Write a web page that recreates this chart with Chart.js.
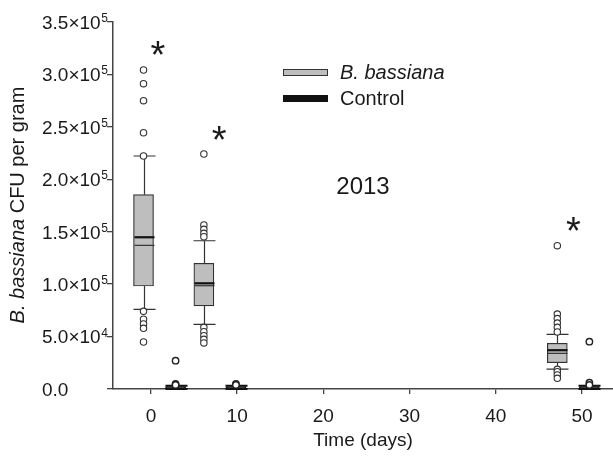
<!DOCTYPE html>
<html>
<head>
<meta charset="utf-8">
<script src="https://cdn.jsdelivr.net/npm/chart.js@4.4.1/dist/chart.umd.min.js"></script>
<style>
  html, body { margin: 0; padding: 0; background: #fff; }
  #wrap { width: 613px; height: 465px; }
</style>
</head>
<body>
<div id="wrap"><canvas id="boxChart" width="613" height="465"></canvas></div>
<script>
// sampling days; each pair of boxes sits either side of its day
const sampleDays = [1, 8, 49];

// B. bassiana boxes (CFU per gram)
const bassLow    = [76000, 61700, 19000];
const bassQ1     = [98200, 79200, 25100];
const bassMedian = [144700, 100800, 37000];
const bassQ3     = [185300, 119900, 43600];
const bassHigh   = [222200, 141400, 52100];
const bassMean   = [137000, 98500, 34000];
const bassOutliers = [
  [304200, 291200, 275000, 244400, 222200, 74100, 66500, 62000, 57900, 44800],
  [224100, 156400, 152300, 148500, 145200, 58800, 54600, 50800, 47400, 43900],
  [136700, 71500, 67200, 62900, 58800, 54400, 18800, 16500, 13400, 10200]
];

// Control boxes
const ctrlLow    = [0, 0, 0];
const ctrlQ1     = [400, 400, 400];
const ctrlMedian = [1000, 1000, 1000];
const ctrlQ3     = [2200, 2200, 2200];
const ctrlHigh   = [3200, 3200, 3200];
const ctrlOutliers = [
  [27000, 4800, 3800],
  [4800, 3800],
  [45100, 6000, 3800]
];

// significance marks
const starX = [0.8, 7.9, 49.0];
const starY = [325000, 244000, 157000];

// axis ticks
const xTickValues = [0, 10, 20, 30, 40, 50];
const yTickValues = [0, 50000, 100000, 150000, 200000, 250000, 300000, 350000];
const yTickMantissa = ['0.0', '5.0\u00d710', '1.0\u00d710', '1.5\u00d710', '2.0\u00d710', '2.5\u00d710', '3.0\u00d710', '3.5\u00d710'];
const yTickExponent = ['', '4', '5', '5', '5', '5', '5', '5'];

const DODGE = 1.86;          // days either side of the sampling day
const BOX_W = 20;            // px
const CAP_HALF = 11;         // px
const FONT = '"Liberation Sans", Arial, sans-serif';
const INK = '#1a1a1a';
const AXIS = '#444';
const BOX_GREY = '#bebebe';

const bassX = sampleDays.map(d => d - DODGE);
const ctrlX = sampleDays.map(d => d + DODGE);

function outlierPoints(xs, lists) {
  const pts = [];
  lists.forEach((list, i) => list.forEach(v => pts.push({ x: xs[i], y: v })));
  return pts;
}

const boxPlugin = {
  id: 'boxExtras',
  beforeDatasetsDraw(chart) {
    const { ctx, scales: { x, y } } = chart;
    ctx.save();
    ctx.lineWidth = 1.2;
    const whisk = (xs, lo, q1, q3, hi, col) => {
      xs.forEach((xv, i) => {
        const px = Math.round(x.getPixelForValue(xv)) + 0.5;
        ctx.strokeStyle = col;
        ctx.beginPath();
        ctx.moveTo(px, y.getPixelForValue(lo[i]));
        ctx.lineTo(px, y.getPixelForValue(q1[i]));
        ctx.moveTo(px, y.getPixelForValue(q3[i]));
        ctx.lineTo(px, y.getPixelForValue(hi[i]));
        [lo[i], hi[i]].forEach(v => {
          const py = y.getPixelForValue(v);
          ctx.moveTo(px - CAP_HALF, py);
          ctx.lineTo(px + CAP_HALF, py);
        });
        ctx.stroke();
      });
    };
    whisk(bassX, bassLow, bassQ1, bassQ3, bassHigh, '#333');
    ctx.lineWidth = 2;
    whisk(ctrlX, ctrlLow, ctrlQ1, ctrlQ3, ctrlHigh, '#111');
    ctx.restore();
  },
  afterDatasetsDraw(chart) {
    const { ctx, chartArea, scales: { x, y } } = chart;
    ctx.save();
    // medians and means
    const hline = (xs, vals, w, col) => {
      xs.forEach((xv, i) => {
        const px = Math.round(x.getPixelForValue(xv)) + 0.5;
        const py = y.getPixelForValue(vals[i]);
        ctx.strokeStyle = col;
        ctx.lineWidth = w;
        ctx.beginPath();
        ctx.moveTo(px - BOX_W / 2, py);
        ctx.lineTo(px + BOX_W / 2, py);
        ctx.stroke();
      });
    };
    hline(bassX, bassMean, 1.2, '#333');
    hline(bassX, bassMedian, 2.2, '#111');

    // asterisks
    ctx.fillStyle = INK;
    ctx.font = '38px ' + FONT;
    ctx.textAlign = 'center';
    ctx.textBaseline = 'alphabetic';
    const m = ctx.measureText('*');
    const mid = (m.actualBoundingBoxAscent - m.actualBoundingBoxDescent) / 2;
    starX.forEach((sx, i) => {
      ctx.fillText('*', x.getPixelForValue(sx), y.getPixelForValue(starY[i]) + mid);
    });

    // year label
    ctx.font = '24px ' + FONT;
    ctx.textBaseline = 'middle';
    ctx.fillText('2013', (chartArea.left + chartArea.right) / 2, 187);

    // y tick labels with exponents
    ctx.textAlign = 'left';
    ctx.textBaseline = 'alphabetic';
    yTickValues.forEach((v, i) => {
      const py = y.getPixelForValue(v);
      ctx.font = '19px ' + FONT;
      ctx.fillText(yTickMantissa[i], 42, py + 6.8);
      const w = ctx.measureText(yTickMantissa[i]).width;
      if (yTickExponent[i]) {
        ctx.font = '12px ' + FONT;
        ctx.fillText(yTickExponent[i], 42 + w + 0.5, py);
      }
    });

    // x title
    ctx.font = '19px ' + FONT;
    ctx.textAlign = 'center';
    ctx.textBaseline = 'middle';
    ctx.fillText('Time (days)', (chartArea.left + chartArea.right) / 2, 441);

    // y title, italic genus name then plain text
    ctx.translate(18, 205);
    ctx.rotate(-Math.PI / 2);
    ctx.textAlign = 'left';
    const partA = 'B. bassiana';
    const partB = ' CFU per gram';
    ctx.font = 'italic 20px ' + FONT;
    const wa = ctx.measureText(partA).width;
    ctx.font = '20px ' + FONT;
    const wb = ctx.measureText(partB).width;
    const start = -(wa + wb) / 2;
    ctx.font = 'italic 20px ' + FONT;
    ctx.fillText(partA, start, 0);
    ctx.font = '20px ' + FONT;
    ctx.fillText(partB, start + wa, 0);
    ctx.setTransform(1, 0, 0, 1, 0, 0);

    // legend
    ctx.lineWidth = 1;
    ctx.fillStyle = BOX_GREY;
    ctx.strokeStyle = '#333';
    ctx.fillRect(283, 69, 45, 7);
    ctx.strokeRect(283.5, 69.5, 44, 6);
    ctx.fillStyle = '#111';
    ctx.fillRect(283, 95, 45, 7);
    ctx.fillStyle = INK;
    ctx.textAlign = 'left';
    ctx.textBaseline = 'middle';
    ctx.font = 'italic 20px ' + FONT;
    ctx.fillText('B. bassiana', 340, 73);
    ctx.font = '20px ' + FONT;
    ctx.fillText('Control', 340, 99);
    ctx.restore();
  }
};

const ctx = document.getElementById('boxChart').getContext('2d');
const chart = new Chart(ctx, {
  type: 'bar',
  data: {
    datasets: [
      {
        type: 'scatter',
        label: 'B. bassiana outliers',
        data: outlierPoints(bassX, bassOutliers),
        pointRadius: 3.2,
        pointBackgroundColor: '#fff',
        pointBorderColor: '#333',
        pointBorderWidth: 1.1,
        clip: false
      },
      {
        type: 'scatter',
        label: 'Control outliers',
        data: outlierPoints(ctrlX, ctrlOutliers),
        pointRadius: 3.2,
        pointBackgroundColor: '#fff',
        pointBorderColor: '#222',
        pointBorderWidth: 1.4,
        clip: false
      },
      {
        label: 'B. bassiana',
        data: bassX.map((xv, i) => ({ x: xv, y: [bassQ1[i], bassQ3[i]] })),
        backgroundColor: BOX_GREY,
        borderColor: '#333',
        borderWidth: 1.2,
        borderSkipped: false,
        barThickness: BOX_W,
        grouped: false
      },
      {
        label: 'Control',
        data: ctrlX.map((xv, i) => ({ x: xv, y: [ctrlQ1[i], ctrlQ3[i]] })),
        backgroundColor: '#111',
        borderColor: '#111',
        borderWidth: 1,
        borderSkipped: false,
        barThickness: BOX_W,
        grouped: false
      }
    ]
  },
  options: {
    responsive: false,
    animation: false,
    devicePixelRatio: 1,
    layout: { autoPadding: false, padding: { top: 22, left: 0, right: 0, bottom: 0 } },
    plugins: {
      legend: { display: false },
      tooltip: { enabled: false }
    },
    scales: {
      x: {
        type: 'linear',
        position: 'bottom',
        offset: false,
        min: -4.4,
        max: 53.6,
        afterBuildTicks: s => { s.ticks = xTickValues.map(v => ({ value: v })); },
        afterFit: s => { s.height = 76; s.paddingLeft = 0; s.paddingRight = 0; },
        ticks: {
          font: { family: FONT, size: 19 },
          color: INK,
          padding: 11,
          maxRotation: 0
        },
        grid: { offset: false, drawOnChartArea: false, tickLength: 5, color: AXIS, lineWidth: 1.3 },
        border: { color: AXIS, width: 1.5 }
      },
      y: {
        min: 0,
        max: 350000,
        afterBuildTicks: s => { s.ticks = yTickValues.map(v => ({ value: v })); },
        afterFit: s => { s.width = 113; s.paddingTop = 0; s.paddingBottom = 0; },
        ticks: { display: false },
        grid: { drawOnChartArea: false, tickLength: 6, color: AXIS, lineWidth: 1.3 },
        border: { color: AXIS, width: 1.5 }
      }
    }
  },
  plugins: [boxPlugin]
});
</script>
</body>
</html>
